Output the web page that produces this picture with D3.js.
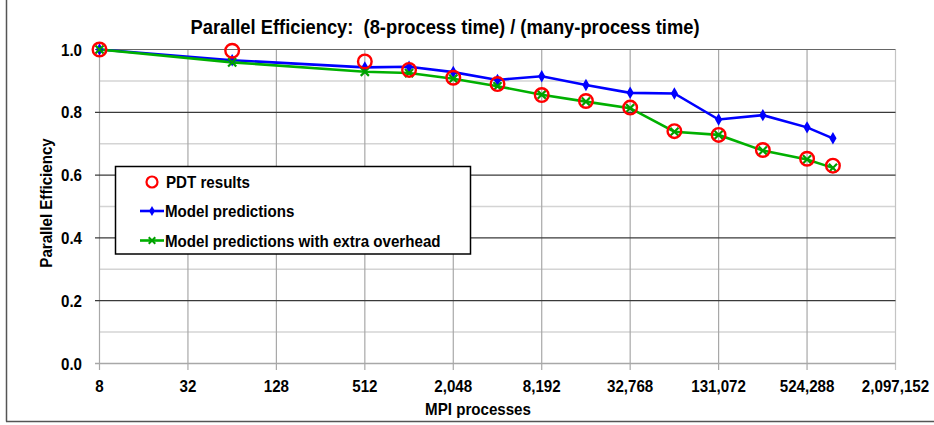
<!DOCTYPE html>
<html><head><meta charset="utf-8">
<script src="https://cdn.jsdelivr.net/npm/d3@7"></script>
<style>
body{margin:0;background:#fff;}
text{font-family:"Liberation Sans Narrow","Liberation Sans",Arial,sans-serif;font-weight:bold;fill:#000;white-space:pre;}
</style></head>
<body><svg id="c" width="934" height="425"></svg>
<script>
const processes = [8, 64, 512, 1024, 2048, 4096, 8192, 16384, 32768, 65536, 131072, 262144, 524288, 786432];
const pdtResults = [1.0, 0.996, 0.962, 0.935, 0.910, 0.890, 0.855, 0.836, 0.815, 0.740, 0.728, 0.680, 0.652, 0.630];
const modelPred = [1.0, 0.966, 0.943, 0.945, 0.928, 0.903, 0.915, 0.887, 0.862, 0.860, 0.777, 0.791, 0.752, 0.717];
const modelOverhead = [1.0, 0.959, 0.929, 0.925, 0.907, 0.883, 0.856, 0.834, 0.813, 0.738, 0.728, 0.678, 0.650, 0.623];
const xTicks = [8, 32, 128, 512, 2048, 8192, 32768, 131072, 524288, 2097152];
const yMajor = [0, 0.2, 0.4, 0.6, 0.8, 1.0];
const yMinor = [0.1, 0.3, 0.5, 0.7, 0.9];
const legendLabels = ["PDT results", "Model predictions", "Model predictions with extra overhead"];
const title = "Parallel Efficiency:  (8-process time) / (many-process time)";

const SX = 0.89; // horizontal condensing to mimic a narrow face
const svg = d3.select("#c");
const x = d3.scaleLog().base(2).domain([8, 2097152]).range([99.5, 895.5]);
const y = d3.scaleLinear().domain([0, 1]).range([363.5, 49.5]);

function addText(parent, tx, ty, str, size, anchor, rot) {
  const g = parent.append("g").attr("transform", `translate(${tx},${ty})` + (rot ? ` rotate(${rot})` : "") + ` scale(${SX},1)`);
  return g.append("text").attr("text-anchor", anchor).attr("font-size", size).text(str);
}

// outer frame
svg.append("line").attr("x1",6.5).attr("x2",6.5).attr("y1",0).attr("y2",421.5).attr("stroke","#555").attr("stroke-width",1.5);
svg.append("line").attr("x1",6).attr("x2",934).attr("y1",421.5).attr("y2",421.5).attr("stroke","#555").attr("stroke-width",1.5);

// minor horizontal grid
svg.selectAll(".ymin").data(yMinor).join("line")
  .attr("x1",99.5).attr("x2",895.5).attr("y1",d=>y(d)).attr("y2",d=>y(d))
  .attr("stroke","#d4d4d4").attr("stroke-width",1.5);
// vertical grid
svg.selectAll(".vg").data(xTicks).join("line")
  .attr("x1",d=>x(d)).attr("x2",d=>x(d)).attr("y1",y(1)).attr("y2",370)
  .attr("stroke",(d,i)=>i===xTicks.length-1?"#c4c4c4":"#a8a8a8").attr("stroke-width",1.2);
// major horizontal grid
svg.selectAll(".ymaj").data(yMajor).join("line")
  .attr("x1",95).attr("x2",895.5).attr("y1",d=>y(d)).attr("y2",d=>y(d))
  .attr("stroke",d=>d===0?"#a8a8a8":(d===1?"#666":"#3a3a3a")).attr("stroke-width",d=>d===0?1.5:1.2);

// axis labels
const fmt = d3.format(",");
xTicks.forEach(d => addText(svg, x(d), 392, fmt(d), 17, "middle"));
yMajor.forEach(d => addText(svg, 82, y(d) + 6, d3.format(".1f")(d), 17, "end"));

addText(svg, 478, 415, "MPI processes", 17, "middle");
addText(svg, 52, 203, "Parallel Efficiency", 17, "middle", -90);
addText(svg, 445, 34, title, 20.6, "middle");

// lines
const line = d3.line().x((d,i)=>x(processes[i])).y(d=>y(d));
svg.append("path").attr("d",line(modelPred)).attr("fill","none").attr("stroke","#0000ff").attr("stroke-width",2.6);
svg.append("path").attr("d",line(modelOverhead)).attr("fill","none").attr("stroke","#00b000").attr("stroke-width",2.6);

const diamond = d3.symbol().type(d3.symbolDiamond).size(45);
svg.selectAll(".bm").data(modelPred).join("path")
  .attr("transform",(d,i)=>`translate(${x(processes[i])},${y(d)})`).attr("d",diamond).attr("fill","#0000ff");
const cross = d3.symbol().type(d3.symbolX).size(45);
svg.selectAll(".gm").data(modelOverhead).join("path")
  .attr("transform",(d,i)=>`translate(${x(processes[i])},${y(d)})`).attr("d",cross).attr("fill","none").attr("stroke","#00a000").attr("stroke-width",2.2);
svg.selectAll(".rc").data(pdtResults).join("circle")
  .attr("cx",(d,i)=>x(processes[i])).attr("cy",d=>y(d)).attr("r",6.8)
  .attr("fill","none").attr("stroke","#ff0000").attr("stroke-width",2.4);

// legend
const lg = svg.append("g");
lg.append("rect").attr("x",115.5).attr("y",166.5).attr("width",355).attr("height",87.5).attr("fill","#fff").attr("stroke","#000").attr("stroke-width",1.5);
const ly = [182, 211, 240.5];
lg.append("circle").attr("cx",152).attr("cy",ly[0]).attr("r",5.5).attr("fill","none").attr("stroke","#ff0000").attr("stroke-width",2.2);
lg.append("line").attr("x1",140).attr("x2",164).attr("y1",ly[1]).attr("y2",ly[1]).attr("stroke","#0000ff").attr("stroke-width",2.6);
lg.append("path").attr("transform",`translate(152,${ly[1]})`).attr("d",d3.symbol().type(d3.symbolDiamond).size(30)).attr("fill","#0000ff");
lg.append("line").attr("x1",140).attr("x2",164).attr("y1",ly[2]).attr("y2",ly[2]).attr("stroke","#00b000").attr("stroke-width",2.6);
lg.append("path").attr("transform",`translate(152,${ly[2]})`).attr("d",d3.symbol().type(d3.symbolX).size(30)).attr("fill","none").attr("stroke","#00a000").attr("stroke-width",2);
legendLabels.forEach((d,i) => addText(lg, i===0?166:165, ly[i] + 6, d, 17, "start"));
</script></body></html>
